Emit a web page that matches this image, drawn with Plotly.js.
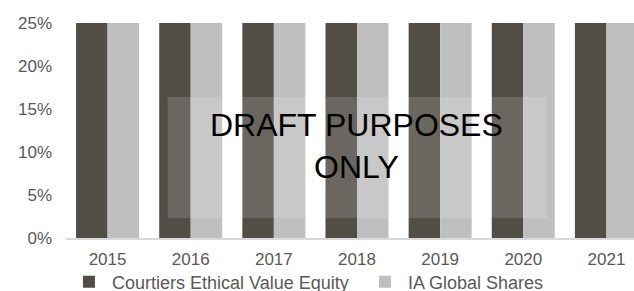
<!DOCTYPE html>
<html>
<head>
<meta charset="utf-8">
<script src="https://cdn.plot.ly/plotly-3.0.1.min.js"></script>
<style>
html,body{margin:0;padding:0;overflow:hidden;background:#fff;}
#chart{width:660px;height:320px;}
</style>
</head>
<body>
<div id="chart"></div>
<script>
var years = ['2015','2016','2017','2018','2019','2020','2021'];
var courtiersValues = [25,25,25,25,25,25,25];
var iaGlobalValues = [25,25,25,25,25,25,25];
var yTickVals = [0,5,10,15,20,25];
var yTickText = ['0%','5%','10%','15%','20%','25%'];

var fam = '"Liberation Sans", Arial, sans-serif';
var tickFont = {family:fam, size:17, color:'#595959'};
var legendFont = {family:fam, size:18, color:'#595959'};

var traces = [
  {type:'bar', name:'Courtiers Ethical Value Equity', x:years, y:courtiersValues,
   marker:{color:'#524D45'}, hoverinfo:'none'},
  {type:'bar', name:'IA Global Shares', x:years, y:iaGlobalValues,
   marker:{color:'#BFBFBF'}, hoverinfo:'none'}
];

var layout = {
  width:660, height:320,
  margin:{l:66, r:12, t:23, b:82, autoexpand:false},
  paper_bgcolor:'#fff', plot_bgcolor:'#fff',
  font:tickFont,
  barmode:'group', bargap:0.242, bargroupgap:0,
  xaxis:{type:'category', showgrid:false, showline:true, linecolor:'#D9D9D9', linewidth:1.5,
         ticks:'', tickfont:tickFont, ticklabelstandoff:5, fixedrange:true},
  yaxis:{range:[0,25], tickvals:yTickVals, ticktext:yTickText, showgrid:false, zeroline:false,
         showline:false, ticks:'', tickfont:tickFont, ticklabelstandoff:13, fixedrange:true},
  showlegend:true,
  legend:{orientation:'h', x:-0.0001, xanchor:'left', y:-0.205, yanchor:'middle',
          itemwidth:36, entrywidth:245, entrywidthmode:'pixels',
          font:legendFont, bgcolor:'rgba(0,0,0,0)'},
  shapes:[{type:'rect', xref:'paper', yref:'paper', x0:0.1746, x1:0.8258, y0:0.093, y1:0.6558,
           fillcolor:'rgba(255,255,255,0.15)', line:{width:0}, layer:'above'}],
  annotations:[{xref:'paper', yref:'paper', x:0.4993, y:0.428, xanchor:'center', yanchor:'middle',
                text:'DRAFT PURPOSES<br>ONLY', showarrow:false,
                font:{family:fam, size:32, color:'#000'}}]
};

Plotly.newPlot('chart', traces, layout, {displayModeBar:false, staticPlot:true});
</script>
</body>
</html>
